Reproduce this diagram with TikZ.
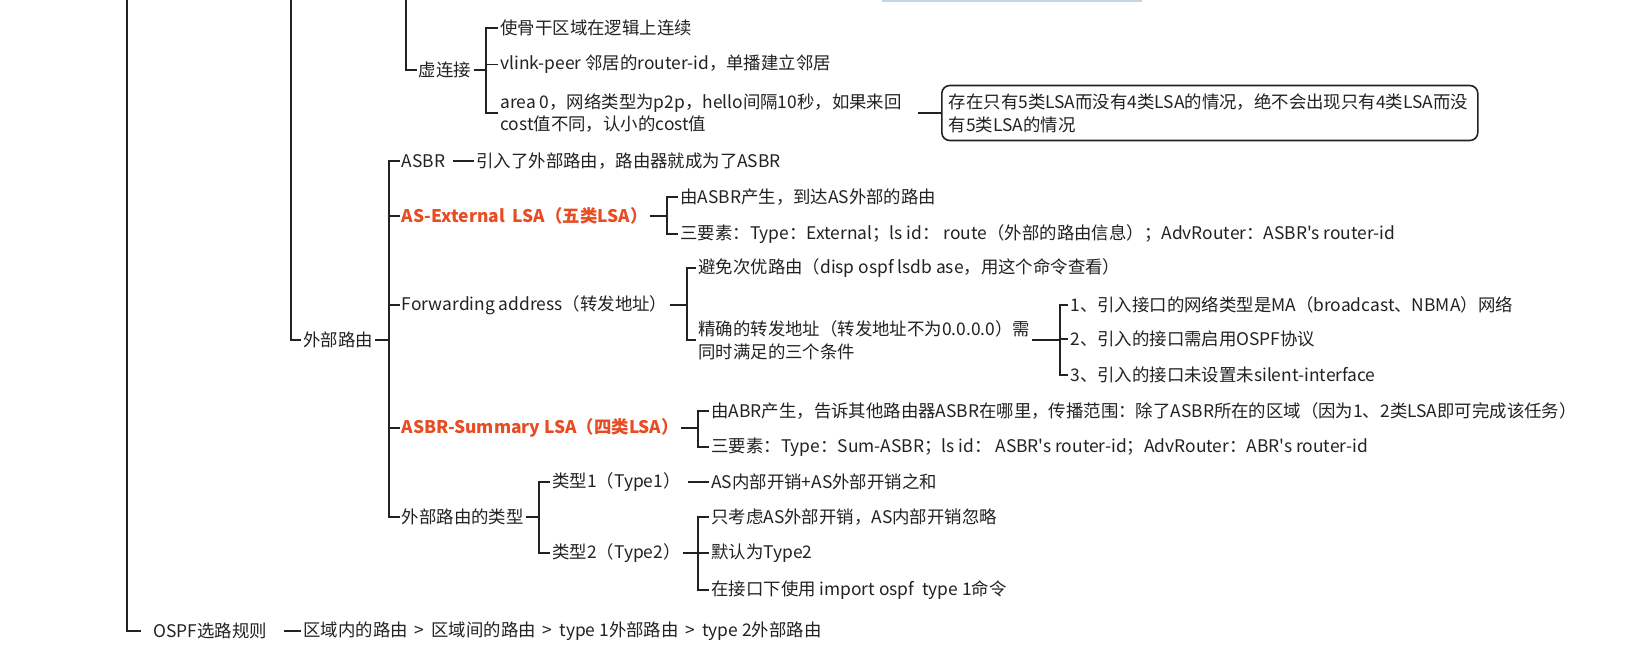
\documentclass[tikz,border=0pt]{standalone}
\usepackage{fontspec}
\setmainfont{Noto Sans CJK SC}[Ligatures=TeXOff]
\usetikzlibrary{calc}
\definecolor{mmink}{RGB}{34,34,34}
\definecolor{mmred}{RGB}{232,76,34}
\definecolor{mmlink}{RGB}{196,214,228}
\newcommand{\sepgt}{\hspace{3.5pt}>\hspace{3.5pt}}
\tikzset{
  leaf/.style={anchor=west, inner sep=1pt, text=mmink, align=left, font=\fontsize{8.7pt}{11.3pt}\selectfont},
  lsa/.style={leaf, text=mmred, font=\fontsize{8.7pt}{11.3pt}\selectfont\bfseries},
  note/.style={leaf, draw=mmink, line width=0.8pt, rounded corners=4pt, inner xsep=3.5pt, text width=261pt, minimum height=27.5pt},
  branch/.style={draw=mmink, line width=0.9pt},
  lead/.style={branch, shorten <=2.5pt}
}

\begin{document}
\begin{tikzpicture}[x=0.5pt,y=-0.5pt]
  \fill[white] (0,0) rectangle (1631,665);
  \useasboundingbox (0,0) rectangle (1631,665);
  \fill[mmlink] (882,0) rectangle (1142,1.5);

  % trunks coming from above the page
  \coordinate (root) at (127,-2);
  \coordinate (ospf) at (291,-2);
  \coordinate (stub) at (406,-2);

  % virtual link
  \node[leaf] (vlink) at (416.5,70) {虚连接};
  \node[leaf] (v1) at (498,28) {使骨干区域在逻辑上连续};
  \node[leaf] (v2) at (498,64.5) {vlink-peer 邻居的router-id，单播建立邻居};
  \node[leaf] (v3) at (498,113) {area 0，网络类型为p2p，hello间隔10秒，如果来回\\cost值不同，认小的cost值};
  \node[note] (rare) at (941,113) {存在只有5类LSA而没有4类LSA的情况，绝不会出现只有4类LSA而没\\有5类LSA的情况};

  % external routes
  \node[leaf] (wai) at (301,340) {外部路由};
  \node[leaf] (asbr) at (399.5,161) {ASBR};
  \node[leaf] (asbrd) at (474,161) {引入了外部路由，路由器就成为了ASBR};
  \node[lsa] (ext) at (399.5,216) {AS-External\ \ LSA（五类LSA）};
  \node[leaf] (e1) at (678,197) {由ASBR产生，到达AS外部的路由};
  \node[leaf] (e2) at (678,234) {三要素：Type：External；ls id：\ route（外部的路由信息）；AdvRouter：ASBR's router-id};
  \node[leaf] (fwd) at (399.5,305) {Forwarding address（转发地址）};
  \node[leaf] (f1) at (696,268) {避免次优路由（disp ospf lsdb ase，用这个命令查看）};
  \node[leaf] (f2) at (696,340) {精确的转发地址（转发地址不为0.0.0.0）需\\同时满足的三个条件};
  \node[leaf] (g1) at (1068,305) {1、引入接口的网络类型是MA（broadcast、NBMA）网络};
  \node[leaf] (g2) at (1068,339) {2、引入的接口需启用OSPF协议};
  \node[leaf] (g3) at (1068,375) {3、引入的接口未设置未silent-interface};
  \node[lsa] (sum) at (399.5,428) {ASBR-Summary LSA（四类LSA）};
  \node[leaf] (s1) at (709,411) {由ABR产生，告诉其他路由器ASBR在哪里，传播范围：除了ASBR所在的区域（因为1、2类LSA即可完成该任务）};
  \node[leaf] (s2) at (709,447) {三要素：Type：Sum-ASBR；ls id：\ ASBR's router-id；AdvRouter：ABR's router-id};
  \node[leaf] (typ) at (399.5,517) {外部路由的类型};
  \node[leaf] (t1) at (550,482) {类型1（Type1）};
  \node[leaf] (t1d) at (709,482) {AS内部开销+AS外部开销之和};
  \node[leaf] (t2) at (550,553) {类型2（Type2）};
  \node[leaf] (u1) at (709,517) {只考虑AS外部开销，AS内部开销忽略};
  \node[leaf] (u2) at (709,553) {默认为Type2};
  \node[leaf] (u3) at (709,590) {在接口下使用 import ospf\ \ type 1命令};

  % route selection
  \node[leaf, inner xsep=6pt] (rule) at (141,631) {OSPF选路规则};
  \node[leaf] (ruled) at (301,631) {区域内的路由\sepgt 区域间的路由\sepgt type 1外部路由\sepgt type 2外部路由};

  % connectors
  \draw[branch] (root) |- (rule.west);
  \draw[branch] (ospf) |- (wai.west);
  \draw[branch] (stub) |- (vlink.west);
  \foreach \c in {v1,v2,v3}
    \draw[branch] (vlink.east) -| ([xshift=-6pt]\c.west) -- (\c.west);
  \foreach \c in {asbr,ext,fwd,sum,typ}
    \draw[branch] (wai.east) -| ([xshift=-5.25pt]\c.west) -- (\c.west);
  \foreach \c in {e1,e2}
    \draw[branch] (ext.east) -| ([xshift=-5.5pt]\c.west) -- (\c.west);
  \foreach \c in {f1,f2}
    \draw[branch] (fwd.east) -| ([xshift=-4.5pt]\c.west) -- (\c.west);
  \foreach \c in {g1,g2,g3}
    \draw[branch] (f2.east) -| ([xshift=-4pt]\c.west) -- (\c.west);
  \foreach \c in {s1,s2}
    \draw[branch] (sum.east) -| ([xshift=-5.5pt]\c.west) -- (\c.west);
  \foreach \c in {t1,t2}
    \draw[branch] (typ.east) -| ([xshift=-5.5pt]\c.west) -- (\c.west);
  \foreach \c in {u1,u2,u3}
    \draw[branch] (t2.east) -| ([xshift=-5.5pt]\c.west) -- (\c.west);
  \draw[lead] (asbr.east) -- (asbrd.west);
  \draw[lead] (t1.east) -- (t1d.west);
  \draw[lead] (rule.east) -- (ruled.west);
  \draw[branch, shorten <=7pt] (v3.east) -- (rare.west);
\end{tikzpicture}
\end{document}
